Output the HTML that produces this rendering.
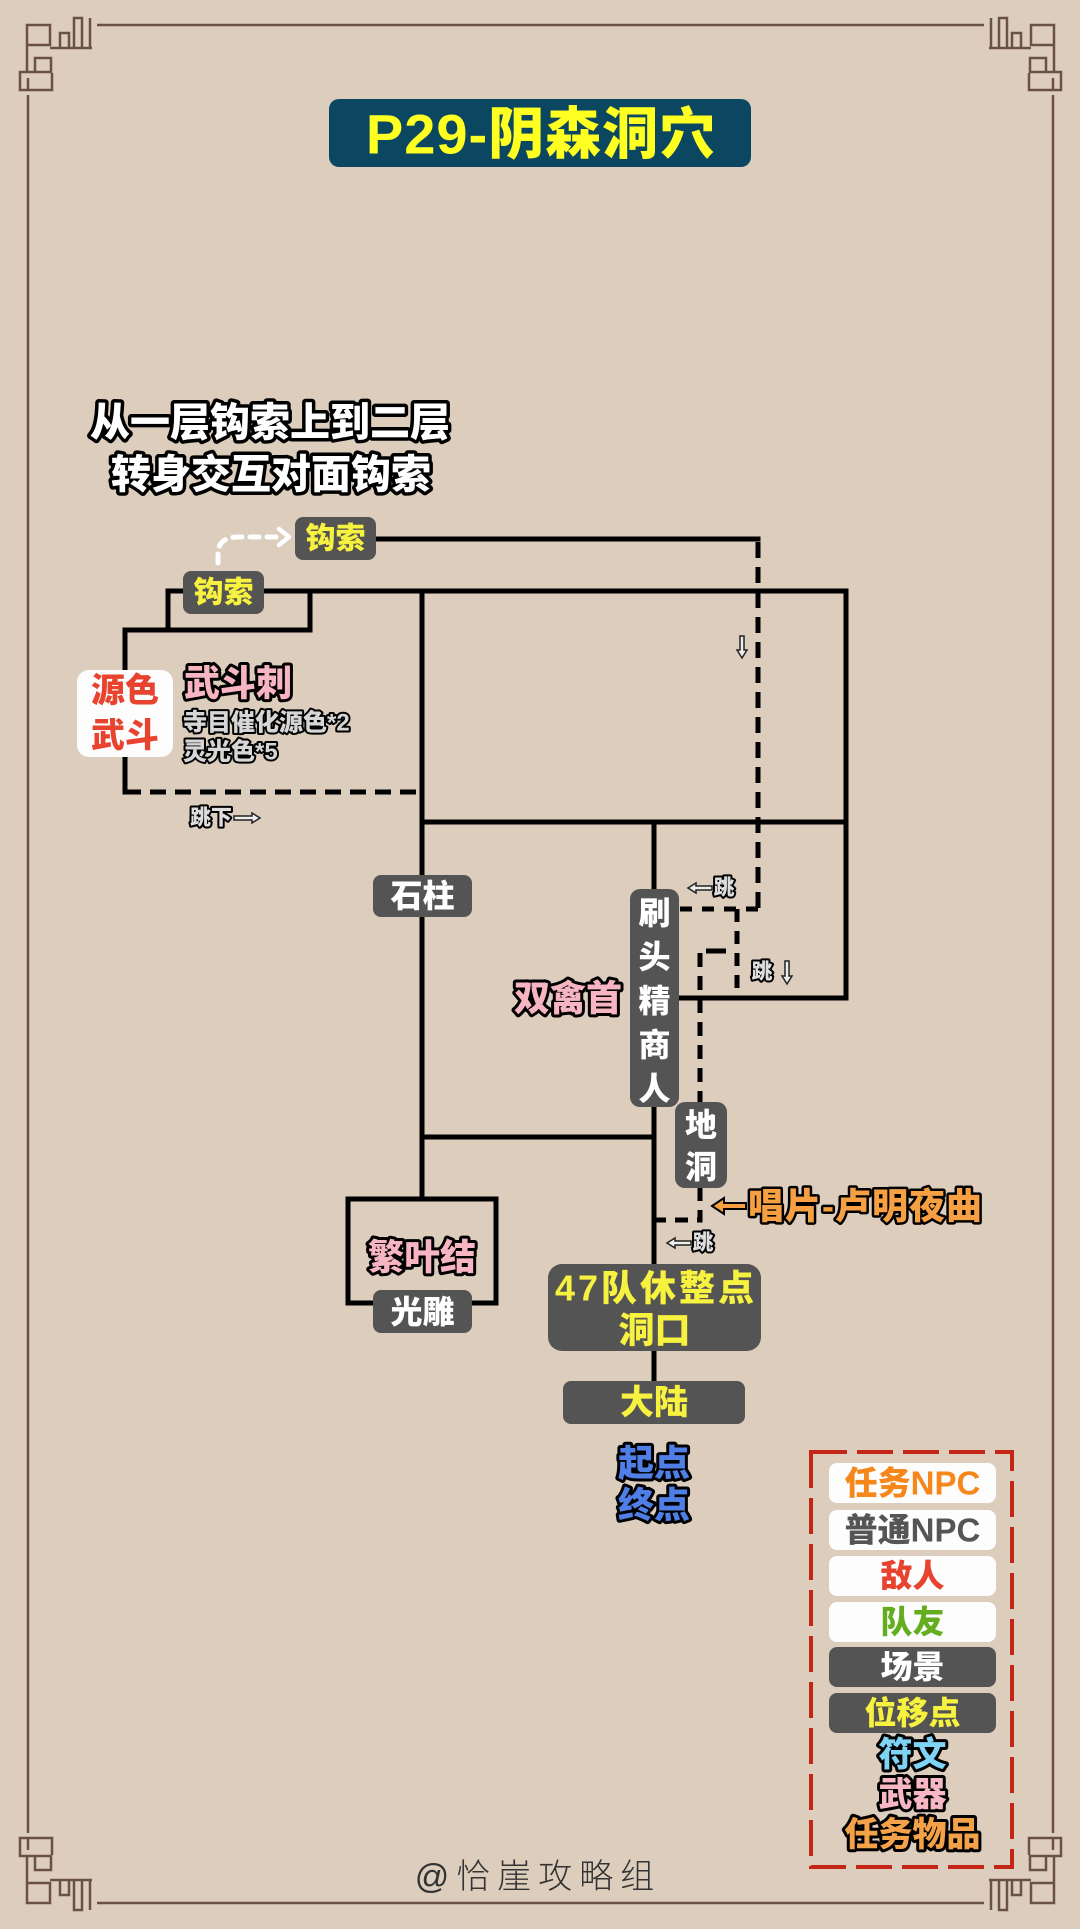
<!DOCTYPE html>
<html>
<head>
<meta charset="utf-8">
<style>
html,body{margin:0;padding:0;background:#dccdbd;}
svg{display:block;}
text{font-family:"Liberation Sans","Noto Sans CJK SC",sans-serif;font-weight:900;dominant-baseline:central;}
.ol{stroke:#000;paint-order:stroke;stroke-linejoin:round;}
</style>
</head>
<body>
<svg width="1080" height="1929" viewBox="0 0 1080 1929" xmlns="http://www.w3.org/2000/svg">
<rect width="1080" height="1929" fill="#dccdbd"/>

<!-- frame -->
<g stroke="#6b5046" stroke-width="2.5" fill="none">
  <line x1="97" y1="25" x2="984" y2="25"/>
  <line x1="97" y1="1903" x2="984" y2="1903"/>
  <line x1="28" y1="95" x2="28" y2="1833"/>
  <line x1="1053" y1="95" x2="1053" y2="1833"/>
  <g id="orn">
    <path d="M27,73 V25 H50 V45 H27 M50,48 H92 M60,48 V33 H69 V48 M74,48 V18 H82 V48 M90,18 V48 M35,72 V58 H51 V72 H20 V90 H52 V73 M28,78 V90"/>
  </g>
  <use href="#orn" transform="translate(1081,0) scale(-1,1)"/>
  <use href="#orn" transform="translate(0,1928) scale(1,-1)"/>
  <use href="#orn" transform="translate(1081,1928) scale(-1,-1)"/>
</g>

<!-- title -->
<rect x="329" y="99" width="422" height="68" rx="10" fill="#0c4762"/>
<text x="541" y="134" font-size="56" fill="#ffff22" text-anchor="middle" letter-spacing="1">P29-阴森洞穴</text>

<!-- annotation -->
<text class="ol" x="270" y="423" font-size="40" fill="#fff" stroke-width="7" text-anchor="middle">从一层钩索上到二层</text>
<text class="ol" x="271" y="475" font-size="40" fill="#fff" stroke-width="7" text-anchor="middle">转身交互对面钩索</text>

<!-- solid lines -->
<g stroke="#000" stroke-width="5" fill="none" stroke-linecap="square">
  <path d="M376,539 H758"/>
  <path d="M168,591 H846 V998 H679"/>
  <path d="M168,591 V630 M125,630 H310 V591"/>
  <path d="M125,630 V792"/>
  <path d="M422,591 V1199"/>
  <path d="M422,822 H846"/>
  <path d="M654,822 V1264"/>
  <path d="M422,1137 H654"/>
  <rect x="348" y="1199" width="148" height="104"/>
  <path d="M654,1351 V1381"/>
</g>
<!-- dashed lines -->
<g stroke="#000" stroke-width="5" fill="none" stroke-dasharray="16 9">
  <path d="M125,792 H422"/>
  <path d="M758,542 V909"/>
  <path d="M758,909 H679" stroke-dasharray="12 10"/>
  <path d="M737,909 V996" stroke-dasharray="13 9"/>
  <path d="M726,951 H706" stroke-dasharray="none"/>
  <path d="M700,953 V1102" stroke-dasharray="14 9"/>
  <path d="M700,1188 V1220 H654" stroke-dasharray="13 9"/>
</g>

<!-- white dashed curved arrow -->
<path d="M218,563 L218,552 Q219,538 236,537 L281,537" stroke="#fff" stroke-width="5" fill="none" stroke-dasharray="9 8" stroke-linecap="round"/>
<polyline points="279,529 289,537 279,545" stroke="#fff" stroke-width="4.5" fill="none" stroke-linecap="round" stroke-linejoin="round"/>

<!-- hook boxes -->
<rect x="295" y="517" width="81" height="43" rx="8" fill="#545454"/>
<text x="335.5" y="539" font-size="30" fill="#f7f13f" text-anchor="middle">钩索</text>
<rect x="183" y="571" width="81" height="43" rx="8" fill="#545454"/>
<text x="223.5" y="593" font-size="30" fill="#f7f13f" text-anchor="middle">钩索</text>

<!-- 源色武斗 -->
<rect x="77" y="670" width="96" height="87" rx="12" fill="#fdfdfd"/>
<text x="125" y="691" font-size="34" fill="#e8432e" text-anchor="middle">源色</text>
<text x="125" y="736" font-size="34" fill="#e8432e" text-anchor="middle">武斗</text>

<text class="ol" x="184" y="683" font-size="36" fill="#f7b5c2" stroke-width="6">武斗刺</text>
<text class="ol" x="183" y="723" font-size="24" fill="#d6d6d6" stroke-width="4">寺目催化源色*2</text>
<text class="ol" x="183" y="752" font-size="24" fill="#d6d6d6" stroke-width="4">灵光色*5</text>

<!-- small jump labels -->
<text class="ol" x="190" y="818" font-size="21" fill="#dedede" stroke-width="4">跳下</text>
<polygon points="260,818 252,813 252,816 234,816 234,820 252,820 252,823" fill="#eee" stroke="#222" stroke-width="1.5"/>

<polygon points="740,636 744,636 744,650 747,650 742,658 737,650 740,650" fill="#eee" stroke="#222" stroke-width="1.5"/>

<polygon points="688,888 696,883 696,886 712,886 712,890 696,890 696,893" fill="#eee" stroke="#222" stroke-width="1.5"/>
<text class="ol" x="724" y="888" font-size="21" fill="#dedede" stroke-width="4" text-anchor="middle">跳</text>

<text class="ol" x="762" y="972" font-size="21" fill="#dedede" stroke-width="4" text-anchor="middle">跳</text>
<polygon points="785,961 789,961 789,976 792,976 787,984 782,976 785,976" fill="#eee" stroke="#222" stroke-width="1.5"/>

<polygon points="667,1243 675,1238 675,1241 691,1241 691,1245 675,1245 675,1248" fill="#eee" stroke="#222" stroke-width="1.5"/>
<text class="ol" x="703" y="1243" font-size="21" fill="#dedede" stroke-width="4" text-anchor="middle">跳</text>

<!-- 石柱 -->
<rect x="373" y="875" width="99" height="42" rx="8" fill="#545454"/>
<text x="422.5" y="896" font-size="32" fill="#fff" text-anchor="middle">石柱</text>

<!-- 刷头精商人 -->
<rect x="630" y="889" width="49" height="218" rx="10" fill="#545454"/>
<g font-size="32" fill="#fff" text-anchor="middle">
  <text x="654.5" y="913">刷</text>
  <text x="654.5" y="957">头</text>
  <text x="654.5" y="1001">精</text>
  <text x="654.5" y="1045">商</text>
  <text x="654.5" y="1089">人</text>
</g>

<text class="ol" x="568" y="998" font-size="36" fill="#f7b5c2" stroke-width="6" text-anchor="middle">双禽首</text>

<!-- 地洞 -->
<rect x="675" y="1102" width="52" height="86" rx="10" fill="#545454"/>
<text x="701" y="1125" font-size="32" fill="#fff" text-anchor="middle">地</text>
<text x="701" y="1167" font-size="32" fill="#fff" text-anchor="middle">洞</text>

<!-- 唱片 -->
<polygon points="712,1206 724,1198 724,1203 746,1203 746,1209 724,1209 724,1214" fill="#f7a043" stroke="#000" stroke-width="2"/>
<text class="ol" x="748" y="1206" font-size="36" fill="#f7a043" stroke-width="5" letter-spacing="1">唱片-卢明夜曲</text>

<!-- 繁叶结 / 光雕 -->
<text class="ol" x="422" y="1257" font-size="36" fill="#f7b5c2" stroke-width="6" text-anchor="middle">繁叶结</text>
<rect x="373" y="1290" width="99" height="43" rx="8" fill="#545454"/>
<text x="422.5" y="1312" font-size="32" fill="#fff" text-anchor="middle">光雕</text>

<!-- 47 -->
<rect x="548" y="1264" width="213" height="87" rx="14" fill="#545454"/>
<text x="656" y="1288" font-size="36" fill="#f7f13f" text-anchor="middle" letter-spacing="3">47队休整点</text>
<text x="654.5" y="1330" font-size="36" fill="#f7f13f" text-anchor="middle">洞口</text>

<!-- 大陆 -->
<rect x="563" y="1381" width="182" height="43" rx="8" fill="#545454"/>
<text x="654" y="1403" font-size="34" fill="#f7f13f" text-anchor="middle">大陆</text>

<text class="ol" x="654" y="1463" font-size="36" fill="#4f7fe6" stroke-width="6" text-anchor="middle">起点</text>
<text class="ol" x="654" y="1505" font-size="36" fill="#4f7fe6" stroke-width="6" text-anchor="middle">终点</text>

<!-- legend -->
<rect x="811" y="1452" width="201" height="415" fill="none" stroke="#c42516" stroke-width="4" stroke-dasharray="36 10"/>
<rect x="829" y="1463" width="167" height="40" rx="8" fill="#fdfdfd"/>
<text x="912.5" y="1483" font-size="33" fill="#f5871b" text-anchor="middle">任务NPC</text>
<rect x="829" y="1510" width="167" height="40" rx="8" fill="#fdfdfd"/>
<text x="912.5" y="1530" font-size="33" fill="#555" text-anchor="middle">普通NPC</text>
<rect x="829" y="1556" width="167" height="40" rx="8" fill="#fdfdfd"/>
<text x="912.5" y="1576" font-size="32" fill="#e8432e" text-anchor="middle">敌人</text>
<rect x="829" y="1602" width="167" height="40" rx="8" fill="#fdfdfd"/>
<text x="912.5" y="1622" font-size="32" fill="#64ad1e" text-anchor="middle">队友</text>
<rect x="829" y="1647" width="167" height="40" rx="8" fill="#545454"/>
<text x="912.5" y="1667" font-size="32" fill="#fff" text-anchor="middle">场景</text>
<rect x="829" y="1693" width="167" height="40" rx="8" fill="#545454"/>
<text x="912.5" y="1713" font-size="32" fill="#f7f13f" text-anchor="middle">位移点</text>
<text class="ol" x="912.5" y="1755" font-size="34" fill="#7fd3f4" stroke-width="6" text-anchor="middle">符文</text>
<text class="ol" x="912.5" y="1795" font-size="34" fill="#f7b8c4" stroke-width="6" text-anchor="middle">武器</text>
<text class="ol" x="912.5" y="1835" font-size="34" fill="#f4a24a" stroke-width="6" text-anchor="middle">任务物品</text>

<!-- signature -->
<text x="538" y="1877" font-size="34" fill="#333" text-anchor="middle" letter-spacing="7" style="font-weight:300">@恰崖攻略组</text>
</svg>
</body>
</html>
